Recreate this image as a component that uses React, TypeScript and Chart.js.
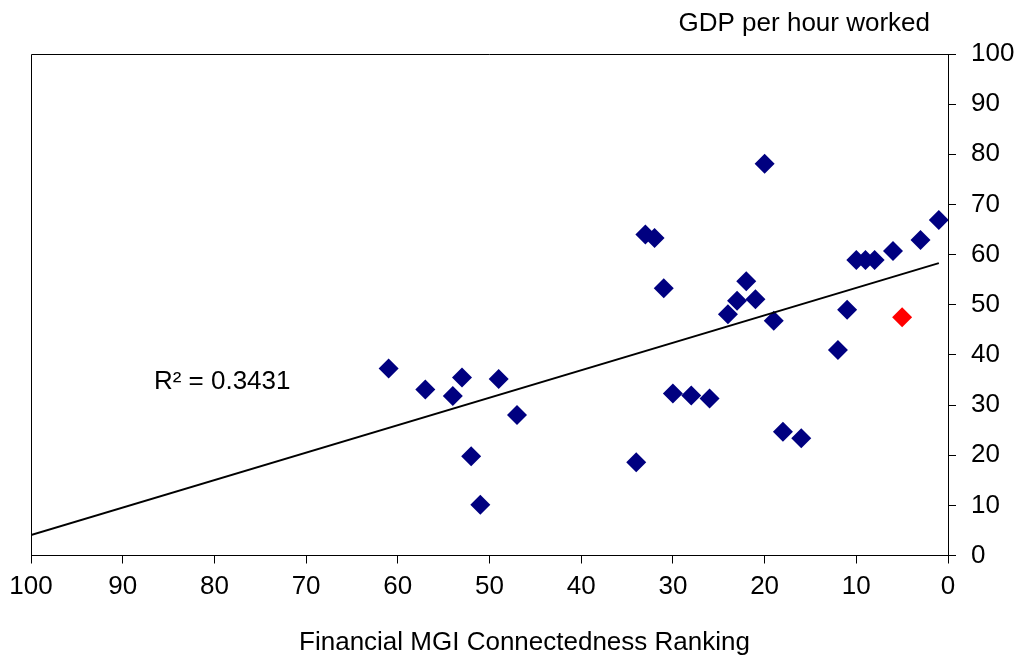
import React, { useEffect, useRef } from "react";
import { Chart, registerables } from "chart.js";

Chart.register(...registerables);

// Financial MGI connectedness ranking (x) vs GDP per hour worked (y)
const rankX = [61, 57, 54, 53, 52, 51, 49, 47, 34, 33, 32, 31, 30, 28, 26, 24, 23, 22, 21, 20, 19, 18, 16, 12, 11, 10, 9, 8, 6, 3, 1];
const gdpY = [37.3, 33.1, 31.8, 35.5, 19.8, 10.1, 35.2, 28.0, 18.6, 64.0, 63.3, 53.3, 32.3, 31.9, 31.3, 48.1, 50.8, 54.7, 51.1, 78.1, 46.8, 24.7, 23.4, 41.0, 49.0, 58.9, 58.9, 58.9, 60.7, 62.9, 66.9];
const highlightX = [5];
const highlightY = [47.5];
const trendX = [100, 1];
const trendY = [4.1, 58.3];
const xTicks = [100, 90, 80, 70, 60, 50, 40, 30, 20, 10, 0];
const yTicks = [0, 10, 20, 30, 40, 50, 60, 70, 80, 90, 100];

const yTitle = "GDP per hour worked";
const xTitle = "Financial MGI Connectedness Ranking";
const r2Label = "R² = 0.3431";

const FONT = "'Liberation Sans', Arial, sans-serif";
const FS = 26;

export default function App() {
  const ref = useRef<HTMLCanvasElement | null>(null);

  useEffect(() => {
    if (!ref.current) return;
    const textPlugin = {
      id: "texts",
      afterDraw(chart: any) {
        const { ctx, chartArea, scales } = chart;
        ctx.save();
        // plot-area frame (left & top)
        ctx.strokeStyle = "#000";
        ctx.lineWidth = 1;
        ctx.beginPath();
        ctx.moveTo(Math.round(chartArea.left) + 0.5, Math.round(chartArea.bottom));
        ctx.lineTo(Math.round(chartArea.left) + 0.5, Math.round(chartArea.top) + 0.5);
        ctx.lineTo(Math.round(chartArea.right), Math.round(chartArea.top) + 0.5);
        ctx.stroke();
        ctx.fillStyle = "#000";
        ctx.font = `${FS}px ${FONT}`;
        ctx.textBaseline = "alphabetic";
        ctx.textAlign = "right";
        ctx.fillText(yTitle, 930, 31);
        ctx.textAlign = "center";
        ctx.fillText(xTitle, 524.5, 650);
        ctx.textAlign = "left";
        ctx.textBaseline = "middle";
        ctx.fillText(r2Label, scales.x.getPixelForValue(86.6), scales.y.getPixelForValue(34.6));
        ctx.restore();
      },
    };

    const chart = new Chart(ref.current, {
      type: "scatter",
      data: {
        datasets: [
          {
            type: "line",
            data: trendX.map((x, i) => ({ x, y: trendY[i] })),
            borderColor: "#000",
            borderWidth: 2,
            pointRadius: 0,
            fill: false,
          } as any,
          {
            data: highlightX.map((x, i) => ({ x, y: highlightY[i] })),
            pointStyle: "rectRot",
            pointRadius: 10,
            backgroundColor: "#ff0000",
            borderColor: "#ff0000",
            borderWidth: 0,
          },
          {
            data: rankX.map((x, i) => ({ x, y: gdpY[i] })),
            pointStyle: "rectRot",
            pointRadius: 10,
            backgroundColor: "#000080",
            borderColor: "#000080",
            borderWidth: 0,
          },
        ],
      },
      options: {
        responsive: false,
        animation: false,
        events: [],
        layout: { padding: { left: 31, top: 54, right: 0, bottom: 0 } },
        plugins: { legend: { display: false }, tooltip: { enabled: false }, title: { display: false } },
        scales: {
          x: {
            type: "linear",
            position: "bottom",
            min: 0,
            max: 100,
            reverse: true,
            afterBuildTicks: (s: any) => {
              s.ticks = xTicks.map((v) => ({ value: v }));
            },
            afterFit: (s: any) => {
              s.height = 103.5;
            },
            ticks: { color: "#000", font: { family: FONT, size: FS }, padding: 8, maxRotation: 0, autoSkip: false },
            grid: { drawOnChartArea: false, drawTicks: true, tickLength: 8, color: "#000", lineWidth: 1 },
            border: { display: true, color: "#000", width: 1 },
          },
          y: {
            type: "linear",
            position: "right",
            min: 0,
            max: 100,
            afterBuildTicks: (s: any) => {
              s.ticks = yTicks.map((v) => ({ value: v }));
            },
            afterFit: (s: any) => {
              s.width = 74;
            },
            ticks: { color: "#000", font: { family: FONT, size: FS }, padding: 15, autoSkip: false },
            grid: { drawOnChartArea: false, drawTicks: true, tickLength: 8, color: "#000", lineWidth: 1 },
            border: { display: true, color: "#000", width: 1 },
          },
        },
      },
      plugins: [textPlugin],
    });
    return () => chart.destroy();
  }, []);

  return (
    <canvas
      ref={ref}
      width={1022}
      height={659}
      style={{ position: "absolute", left: 0, top: 0, display: "block", background: "#fff" }}
    />
  );
}
